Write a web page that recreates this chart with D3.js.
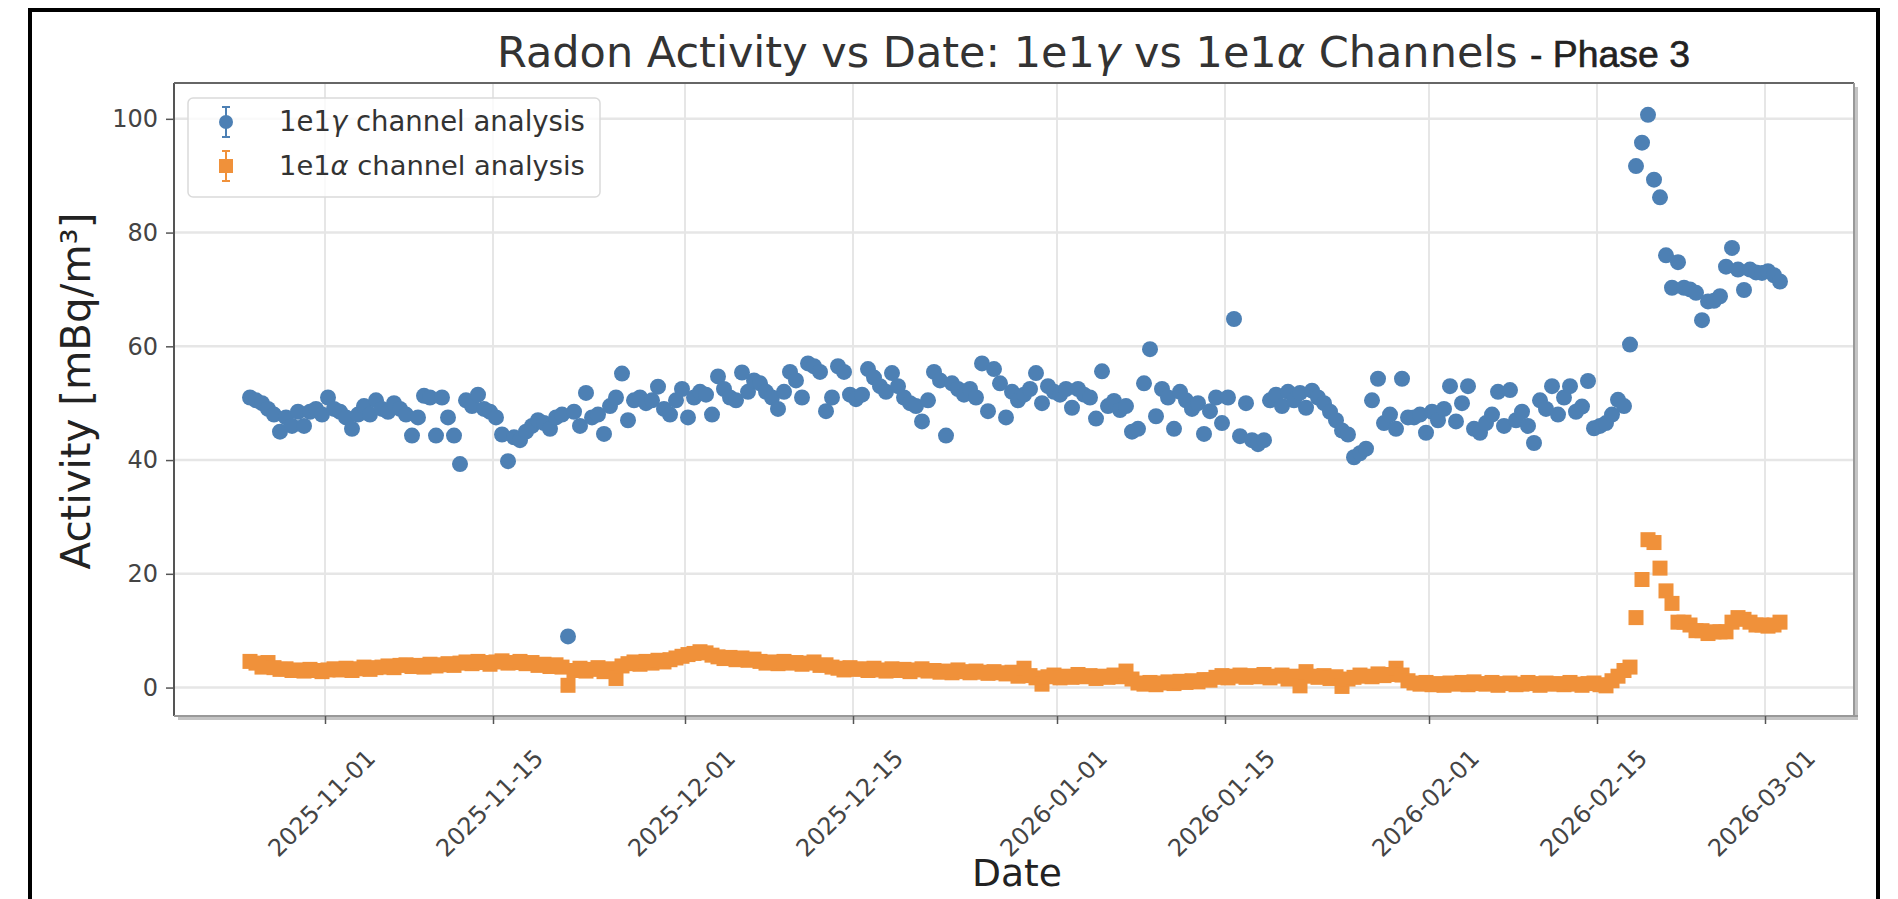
<!DOCTYPE html>
<html>
<head>
<meta charset="utf-8">
<script src="https://cdn.jsdelivr.net/npm/d3@7"></script>
<style>
  body { margin: 0; background: #fff; }
  text { font-family: "DejaVu Sans", sans-serif; }
</style>
</head>
<body>
<svg id="chart" width="1898" height="899"></svg>
<script>
// 12-hour bins, first bin starts 2025-10-25 18:00 UTC
var binStart = "2025-10-25T18:00:00Z";
var binHours = 12;

// 1e1 gamma channel activity [mBq/m3], one value per bin
var gammaValues = [
  51, 50.5, 50, 49, 48, 45, 47.5, 46, 48.5, 46,
  48.5, 49, 48, 51, 49, 48.5, 47.5, 45.5, 48, 49.5,
  48, 50.5, 49, 48.5, 50, 49, 48, 44.3, 47.5, 51.3,
  51, 44.3, 51, 47.5, 44.3, 39.3, 50.5, 49.5, 51.5, 49,
  48.5, 47.5, 44.5, 39.8, 44, 43.5, 45, 46, 47, 46.5,
  45.5, 47.5, 48, 9, 48.5, 46, 51.8, 47.5, 48, 44.6,
  49.5, 51, 55.2, 47, 50.5, 51, 50, 50.5, 52.9, 49,
  48, 50.5, 52.5, 47.5, 51, 52, 51.5, 48, 54.7, 52.5,
  51, 50.5, 55.4, 52, 54, 53.5, 52, 51, 49, 52,
  55.5, 54, 51, 57, 56.5, 55.5, 48.6, 51, 56.5, 55.5,
  51.5, 50.7, 51.5, 56, 54.5, 53, 52, 55.3, 53, 51,
  50, 49.5, 46.8, 50.5, 55.5, 54, 44.3, 53.5, 52.5, 51.5,
  52.5, 51, 57, 48.6, 56, 53.5, 47.5, 52, 50.5, 51.5,
  52.5, 55.3, 50, 53, 52, 51.5, 52.5, 49.2, 52.5, 51.5,
  51, 47.3, 55.6, 49.5, 50.4, 48.8, 49.5, 45, 45.5, 53.5,
  59.5, 47.7, 52.5, 51, 45.5, 52, 50.5, 49, 50, 44.6,
  48.6, 51, 46.5, 51, 64.8, 44.2, 50, 43.5, 42.8, 43.5,
  50.5, 51.5, 49.5, 52, 50.5, 51.8, 49.2, 52.2, 51, 50,
  48.5, 47, 45.2, 44.5, 40.5, 41.2, 42, 50.5, 54.3, 46.5,
  48, 45.5, 54.3, 47.5, 47.5, 48, 44.8, 48.5, 47, 49,
  53, 46.8, 50, 53, 45.5, 44.8, 46.5, 48, 52, 46,
  52.3, 47, 48.5, 46, 43, 50.5, 49, 53, 48, 51,
  53, 48.5, 49.4, 53.9, 45.6, 46, 46.5, 48, 50.6, 49.5,
  60.3, 91.7, 95.8, 100.7, 89.3, 86.2, 76, 70.3, 74.8, 70.3,
  70, 69.4, 64.6, 67.9, 68, 68.8, 74, 77.3, 73.5, 69.9,
  73.5, 73, 72.9, 73.2, 72.5, 71.4
];

// 1e1 alpha channel activity [mBq/m3], same bins
var alphaValues = [
  4.6, 4.3, 3.6, 4.4, 3.5, 3.2, 3.3, 3.0, 3.1, 2.9,
  3.2, 3.0, 2.8, 3.1, 3.3, 3.1, 3.4, 3.0, 3.3, 3.6,
  3.2, 3.5, 3.6, 3.8, 3.5, 3.9, 4.0, 3.7, 3.9, 3.6,
  4.1, 3.8, 4.0, 4.2, 3.9, 4.3, 4.5, 4.2, 4.6, 4.4,
  4.1, 4.5, 4.7, 4.3, 4.4, 4.6, 4.2, 4.4, 3.9, 4.1,
  3.7, 4.0, 3.6, 0.4, 3.0, 3.4, 2.9, 3.2, 3.5, 2.8,
  3.3, 1.6, 3.8, 4.2, 4.5, 4.1, 4.6, 4.3, 4.8, 4.5,
  4.9, 5.2, 5.5, 5.8, 6.0, 6.3, 6.1, 5.7, 5.4, 5.1,
  5.3, 4.9, 5.2, 4.8, 5.0, 4.6, 4.3, 4.5, 4.2, 4.6,
  4.3, 4.4, 4.1, 4.3, 4.5, 3.9, 4.0, 3.6, 3.4, 3.1,
  3.5, 3.2, 3.3, 3.0, 3.4, 3.1, 2.9, 3.3, 3.0, 3.2,
  2.8, 3.1, 3.3, 2.9, 3.0, 2.7, 2.9, 2.6, 3.1, 2.8,
  2.6, 2.9, 2.7, 2.5, 2.8, 2.6, 2.4, 2.7, 2.0, 3.4,
  2.1, 1.7, 0.6, 1.9, 2.2, 1.7, 2.0, 1.8, 2.3, 1.9,
  2.1, 1.6, 2.0, 1.8, 2.2, 1.9, 2.9, 1.5, 0.8, 0.6,
  0.9, 0.5, 0.8, 1.0, 0.7, 1.1, 0.9, 1.2, 1.0, 1.4,
  1.3, 1.8, 2.1, 1.7, 2.0, 2.2, 1.8, 2.1, 1.9, 2.3,
  1.7, 2.0, 2.2, 1.5, 2.0, 0.3, 2.8, 2.0, 1.8, 2.1,
  1.6, 1.9, 0.2, 1.5, 1.8, 2.2, 2.0, 1.9, 2.4, 2.1,
  2.3, 3.4, 2.2, 1.2, 0.8, 0.6, 0.9, 0.5, 0.7, 0.4,
  0.8, 0.6, 0.9, 0.5, 1.0, 0.7, 0.6, 0.9, 0.4, 0.7,
  0.8, 0.5, 0.6, 0.9, 0.7, 0.4, 0.8, 0.6, 0.7, 0.5,
  0.9, 0.6, 0.4, 0.7, 0.8, 0.5, 0.3, 1.2, 2.0, 3.0,
  3.6, 12.3, 19.0, 26.0, 25.5, 21.0, 17.0, 14.8, 11.5, 11.5,
  11.0, 10.0, 10.0, 9.5, 9.8, 9.8, 9.8, 11.5, 12.3, 12.0,
  11.5, 11.0, 11.0, 10.8, 11.0, 11.5
];

var yTickValues = [0, 20, 40, 60, 80, 100];
var xTickLabels = ["2025-11-01", "2025-11-15", "2025-12-01", "2025-12-15",
  "2026-01-01", "2026-01-15", "2026-02-01", "2026-02-15", "2026-03-01"];
var seriesNames = ["channel analysis", "channel analysis"];
var seriesColors = ["#4d80b4", "#f0913a"];

var svg = d3.select("#chart");

// outer black frame (image is cropped at the bottom)
svg.append("rect")
    .attr("x", 30).attr("y", 10)
    .attr("width", 1848).attr("height", 920)
    .attr("fill", "white")
    .attr("stroke", "black")
    .attr("stroke-width", 4);

var plot = {left: 174, right: 1854, top: 83, bottom: 716};

var x = d3.scaleUtc()
    .domain([new Date("2025-10-19T10:00:00Z"), new Date("2026-03-08T10:00:00Z")])
    .range([plot.left, plot.right]);

var y = d3.scaleLinear()
    .domain([-5, 106.3])
    .range([plot.bottom, plot.top]);

var parseDay = d3.utcParse("%Y-%m-%d");
var xTickDates = xTickLabels.map(parseDay);

function binTime(i) {
  return d3.utcHour.offset(new Date(binStart), i * binHours);
}
var gammaData = gammaValues.map(function(v, i) { return {t: binTime(i), v: v}; });
var alphaData = alphaValues.map(function(v, i) { return {t: binTime(i), v: v}; });

//shadow behind the axes box
svg.append("rect")
    .attr("x", plot.left + 4).attr("y", plot.top + 4)
    .attr("width", plot.right - plot.left).attr("height", plot.bottom - plot.top)
    .attr("fill", "#c4c4c4");
svg.append("rect")
    .attr("x", plot.left).attr("y", plot.top)
    .attr("width", plot.right - plot.left).attr("height", plot.bottom - plot.top)
    .attr("fill", "white");

// grid
var grid = svg.append("g");
grid.selectAll(".gx").data(xTickDates).enter().append("line")
    .attr("x1", function(d) { return x(d); }).attr("x2", function(d) { return x(d); })
    .attr("y1", plot.top).attr("y2", plot.bottom)
    .attr("stroke", "#e6e6e6").attr("stroke-width", 2);
grid.selectAll(".gy").data(yTickValues).enter().append("line")
    .attr("x1", plot.left).attr("x2", plot.right)
    .attr("y1", function(d) { return y(d); }).attr("y2", function(d) { return y(d); })
    .attr("stroke", "#e6e6e6").attr("stroke-width", 2.5);

// data points
var sq = 15;
svg.append("g").selectAll("rect").data(alphaData).enter().append("rect")
    .attr("x", function(d) { return x(d.t) - sq / 2; })
    .attr("y", function(d) { return y(d.v) - sq / 2; })
    .attr("width", sq).attr("height", sq)
    .attr("fill", seriesColors[1]);

svg.append("g").selectAll("circle").data(gammaData).enter().append("circle")
    .attr("cx", function(d) { return x(d.t); })
    .attr("cy", function(d) { return y(d.v); })
    .attr("r", 8)
    .attr("fill", seriesColors[0]);

// spines
svg.append("line").attr("x1", plot.left).attr("x2", plot.left)
    .attr("y1", plot.top).attr("y2", plot.bottom)
    .attr("stroke", "#555").attr("stroke-width", 2);
svg.append("line").attr("x1", plot.left).attr("x2", plot.right)
    .attr("y1", plot.top).attr("y2", plot.top)
    .attr("stroke", "#666").attr("stroke-width", 2);
svg.append("line").attr("x1", plot.left).attr("x2", plot.right + 4)
    .attr("y1", plot.bottom).attr("y2", plot.bottom)
    .attr("stroke", "#999").attr("stroke-width", 2);
svg.append("line").attr("x1", plot.right).attr("x2", plot.right)
    .attr("y1", plot.top).attr("y2", plot.bottom)
    .attr("stroke", "#999").attr("stroke-width", 2);

// axes
var yAxis = svg.append("g")
    .attr("transform", "translate(" + plot.left + ",0)")
    .call(d3.axisLeft(y).tickValues(yTickValues).tickSize(8).tickPadding(8));
yAxis.select(".domain").remove();
yAxis.selectAll("line").attr("stroke", "#555").attr("stroke-width", 1.5);
yAxis.selectAll("text")
    .attr("font-size", 24)
    .attr("font-family", "DejaVu Sans")
    .attr("fill", "#444");

var xAxis = svg.append("g")
    .attr("transform", "translate(0," + plot.bottom + ")")
    .call(d3.axisBottom(x).tickValues(xTickDates)
      .tickFormat(d3.utcFormat("%Y-%m-%d")).tickSize(8));
xAxis.select(".domain").remove();
xAxis.selectAll("line").attr("stroke", "#555").attr("stroke-width", 1.5);
xAxis.selectAll("text")
    .attr("font-size", 24)
    .attr("font-family", "DejaVu Sans")
    .attr("fill", "#444")
    .attr("x", 0).attr("y", 0).attr("dy", "0.35em")
    .attr("text-anchor", "middle")
    .attr("transform", "translate(-4,87) rotate(-45)");

// stretch a text node to a measured width
function fitWidth(sel, target) {
  var node = sel.node();
  var w = node.getComputedTextLength();
  var fs = parseFloat(sel.attr("font-size"));
  sel.attr("font-size", fs * target / w);
}

// labels with greek letters in italic
function greekLabel(parent, prefix, greek, rest) {
  var t = parent.append("text");
  if (prefix) t.append("tspan").text(prefix);
  t.append("tspan").text("1e1");
  t.append("tspan").attr("font-style", "italic").text(greek);
  t.append("tspan").text(rest);
  return t;
}

// title
var title = svg.append("text")
    .attr("x", 497).attr("y", 67)
    .attr("font-size", 40)
    .attr("fill", "#333");
title.append("tspan").text("Radon Activity vs Date: 1e1");
title.append("tspan").attr("font-style", "italic").text("γ");
title.append("tspan").text(" vs 1e1");
title.append("tspan").attr("font-style", "italic").text("α");
title.append("tspan").text(" Channels");
fitWidth(title, 1021);

var phase = svg.append("text")
    .attr("x", 1530).attr("y", 67)
    .attr("font-size", 28)
    .style("font-family", "Liberation Sans")
    .attr("fill", "#222")
    .attr("stroke", "#222").attr("stroke-width", 0.6)
    .text("- Phase 3");
fitWidth(phase, 160);

// axis labels
var yLabel = svg.append("text")
    .attr("transform", "translate(90,391) rotate(-90)")
    .attr("text-anchor", "middle")
    .attr("font-size", 36)
    .attr("fill", "#222");
yLabel.append("tspan").text("Activity [mBq/m");
yLabel.append("tspan").text("³");
yLabel.append("tspan").text("]");
fitWidth(yLabel, 357);

var xLabel = svg.append("text")
    .attr("x", 1017).attr("y", 886)
    .attr("text-anchor", "middle")
    .attr("font-size", 36)
    .attr("fill", "#222")
    .text("Date");
fitWidth(xLabel, 90);

// legend
var legend = svg.append("g");
legend.append("rect")
    .attr("x", 188).attr("y", 98)
    .attr("width", 412).attr("height", 99)
    .attr("rx", 5)
    .attr("fill", "white").attr("fill-opacity", 0.8)
    .attr("stroke", "#dadada").attr("stroke-width", 1.5);

var legendRows = [122, 166];
legendRows.forEach(function(ly, k) {
  var col = seriesColors[k];
  legend.append("line").attr("x1", 226).attr("x2", 226)
      .attr("y1", ly - 15).attr("y2", ly + 15)
      .attr("stroke", col).attr("stroke-width", 2);
  [ly - 15, ly + 15].forEach(function(cy) {
    legend.append("line").attr("x1", 222).attr("x2", 230)
        .attr("y1", cy).attr("y2", cy)
        .attr("stroke", col).attr("stroke-width", 2);
  });
  if (k === 0) {
    legend.append("circle").attr("cx", 226).attr("cy", ly).attr("r", 7).attr("fill", col);
  } else {
    legend.append("rect").attr("x", 219).attr("y", ly - 7)
        .attr("width", 14).attr("height", 14).attr("fill", col);
  }
  var lt = greekLabel(legend, null, k === 0 ? "γ" : "α", " " + seriesNames[k])
      .attr("x", 279).attr("y", ly + 9)
      .attr("font-size", 26)
      .attr("fill", "#333");
  fitWidth(lt, 306);
});
</script>
</body>
</html>
